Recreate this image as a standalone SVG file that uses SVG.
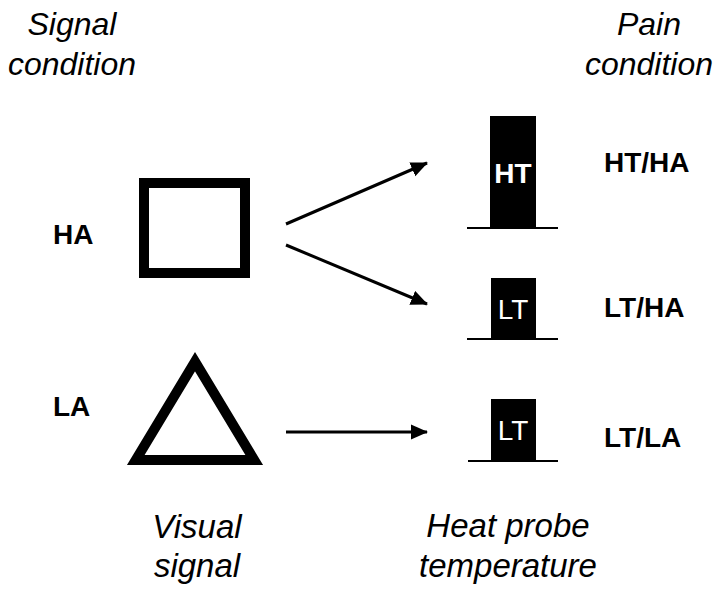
<svg xmlns="http://www.w3.org/2000/svg" width="720" height="590" viewBox="0 0 720 590">
<style>
.it{font-family:"Liberation Sans",Arial,sans-serif;font-style:italic;font-size:32px;fill:#000;text-anchor:middle}
.bd{font-family:"Liberation Sans",Arial,sans-serif;font-weight:bold;font-size:28px;fill:#000}
.wt{font-family:"Liberation Sans",Arial,sans-serif;font-size:28px;fill:#fff;text-anchor:middle}
.shape{fill:none;stroke:#000;stroke-width:10;stroke-linejoin:miter}
.blk{fill:#000}
.base{stroke:#000;stroke-width:2}
.conn{stroke:#000;stroke-width:3;fill:none}
</style>
<defs>
<marker id="ah" markerUnits="userSpaceOnUse" markerWidth="17" markerHeight="16" viewBox="0 0 17 16" refX="16" refY="8" orient="auto">
<path d="M0,0.5 L17,8 L0,15.5 Z" fill="#000"/>
</marker>
</defs>
<rect width="720" height="590" fill="#fff"/>
<g id="title-signal">
<text class="it" x="72" y="35">Signal</text>
<text class="it" x="72" y="75">condition</text>
</g>
<g id="title-pain">
<text class="it" x="649" y="35">Pain</text>
<text class="it" x="649" y="75">condition</text>
</g>
<g id="label-HA"><text class="bd" x="53" y="244">HA</text></g>
<g id="label-LA"><text class="bd" x="53" y="416">LA</text></g>
<g id="square"><rect class="shape" x="144" y="183" width="101" height="90"/></g>
<g id="triangle"><polygon class="shape" points="195,361.7 254.2,460 135.8,460"/></g>
<g id="probe-HT">
<rect class="blk" x="490" y="116" width="46" height="112"/>
<line class="base" x1="467" y1="228" x2="558" y2="228"/>
<text class="wt" x="513" y="183" style="font-weight:bold">HT</text>
</g>
<g id="probe-LT1">
<rect class="blk" x="491" y="278" width="45" height="61"/>
<line class="base" x1="467" y1="339" x2="558" y2="339"/>
<text class="wt" x="513" y="319">LT</text>
</g>
<g id="probe-LT2">
<rect class="blk" x="491" y="399" width="45" height="62"/>
<line class="base" x1="468" y1="461" x2="558" y2="461"/>
<text class="wt" x="513" y="440">LT</text>
</g>
<g id="label-HTHA"><text class="bd" x="604" y="172">HT/HA</text></g>
<g id="label-LTHA"><text class="bd" x="604" y="317">LT/HA</text></g>
<g id="label-LTLA"><text class="bd" x="604" y="447">LT/LA</text></g>
<g id="caption-visual">
<text class="it" x="197" y="538" style="font-size:33px">Visual</text>
<text class="it" x="197" y="577" style="font-size:33px">signal</text>
</g>
<g id="caption-heat">
<text class="it" x="508" y="537" style="font-size:33px">Heat probe</text>
<text class="it" x="508" y="577" style="font-size:33px">temperature</text>
</g>
<g id="connectors">
<line class="conn" x1="286" y1="224" x2="427" y2="163" marker-end="url(#ah)"/>
<line class="conn" x1="286" y1="245" x2="427" y2="304" marker-end="url(#ah)"/>
<line class="conn" x1="286" y1="432" x2="427" y2="432" marker-end="url(#ah)"/>
</g>
</svg>
